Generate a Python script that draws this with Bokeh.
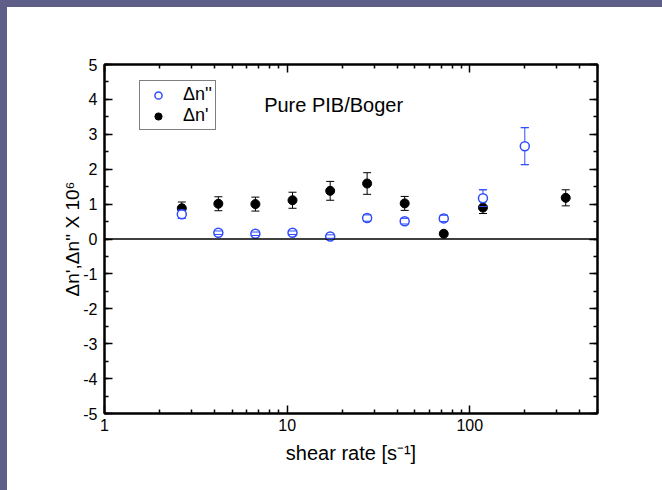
from bokeh.plotting import figure
from bokeh.models import (ColumnDataSource, Whisker, TeeHead, Span, Label, Legend, LegendItem,
                          FixedTicker, SingleIntervalTicker, LogAxis, LinearAxis, Range1d, Spacer,
                          PrintfTickFormatter)
from bokeh.layouts import column, row
from bokeh.embed import file_html
from bokeh.resources import INLINE

# ---- data ----
rate_dn2 = [2.65, 4.2, 6.7, 10.7, 17.2, 27.4, 44, 72, 118, 200]
dn2 = [0.71, 0.18, 0.15, 0.18, 0.07, 0.60, 0.51, 0.59, 1.17, 2.66]
dn2_err = [0.12, 0.05, 0.05, 0.05, 0.05, 0.09, 0.08, 0.09, 0.24, 0.53]

rate_dn1 = [2.65, 4.2, 6.7, 10.7, 17.2, 27.4, 44, 72, 118, 335]
dn1 = [0.88, 1.01, 1.00, 1.11, 1.38, 1.59, 1.02, 0.15, 0.90, 1.18]
dn1_err = [0.18, 0.20, 0.20, 0.23, 0.27, 0.31, 0.20, 0.03, 0.17, 0.23]

x_major = [1, 10, 100]
x_minor = [2, 3, 4, 5, 6, 7, 8, 9, 20, 30, 40, 50, 60, 70, 80, 90, 200, 300, 400, 500]

FONT = "Liberation Sans"
BLUE = "#2f4cff"
BG = "#5d5f88"

src2 = ColumnDataSource(dict(x=rate_dn2, y=dn2,
                             lo=[v - e for v, e in zip(dn2, dn2_err)],
                             hi=[v + e for v, e in zip(dn2, dn2_err)]))
src1 = ColumnDataSource(dict(x=rate_dn1, y=dn1,
                             lo=[v - e for v, e in zip(dn1, dn1_err)],
                             hi=[v + e for v, e in zip(dn1, dn1_err)]))

p = figure(width=655, height=483, x_axis_type="log",
           x_range=Range1d(1, 500), y_range=Range1d(-5, 5),
           output_backend="svg", toolbar_location=None,
           min_border_left=97, min_border_right=65, min_border_top=57, min_border_bottom=77,
           background_fill_color="white", border_fill_color="white")
p.grid.visible = False
p.outline_line_color = "black"
p.outline_line_width = 2

xt = FixedTicker(ticks=x_major, minor_ticks=x_minor)
yt = SingleIntervalTicker(interval=1, num_minor_ticks=2)


def style(ax, labels=True):
    ax.axis_line_width = 2
    ax.axis_line_color = "black"
    ax.major_tick_in = 8
    ax.major_tick_out = 0
    ax.minor_tick_in = 4
    ax.minor_tick_out = 0
    ax.major_tick_line_width = 1.5
    ax.minor_tick_line_width = 1.5
    ax.major_tick_line_color = "black"
    ax.minor_tick_line_color = "black"
    ax.major_label_text_font = FONT
    ax.major_label_text_font_size = "16px"
    ax.major_label_text_color = "black"
    ax.axis_label_text_font = FONT
    ax.axis_label_text_font_size = "20px"
    ax.axis_label_text_font_style = "normal"
    ax.axis_label_text_color = "black"
    if not labels:
        ax.major_label_text_font_size = "0px"
        ax.major_label_text_alpha = 0
        ax.major_label_standoff = 0


xa = p.xaxis[0]
xa.ticker = xt
xa.formatter = PrintfTickFormatter(format="%d")
style(xa)
xa.major_label_standoff = 5
xa.axis_label = "shear rate [s⁻¹]"
xa.axis_label_standoff = 8

ya = p.yaxis[0]
ya.ticker = yt
ya.formatter = PrintfTickFormatter(format="%d")
style(ya)
ya.major_label_standoff = 7
ya.axis_label = "Δn',Δn'' X 10⁶"
ya.axis_label_text_font_size = "19px"
ya.axis_label_standoff = -3

top = LogAxis(ticker=FixedTicker(ticks=x_major, minor_ticks=x_minor))
style(top, labels=False)
p.add_layout(top, "above")
right = LinearAxis(ticker=SingleIntervalTicker(interval=1, num_minor_ticks=2))
style(right, labels=False)
p.add_layout(right, "right")

p.add_layout(Span(location=0, dimension="width", line_color="black", line_width=1.5))

# error bars (stems under the markers)
w1 = Whisker(source=src1, base="x", lower="lo", upper="hi", dimension="height",
             line_color="black", line_width=1,
             upper_head=TeeHead(size=8, line_color="black", line_width=1),
             lower_head=TeeHead(size=8, line_color="black", line_width=1))
w2 = Whisker(source=src2, base="x", lower="lo", upper="hi", dimension="height",
             line_color=BLUE, line_width=1,
             upper_head=TeeHead(size=8, line_color=BLUE, line_width=1),
             lower_head=TeeHead(size=8, line_color=BLUE, line_width=1))
p.add_layout(w1)
p.add_layout(w2)

r1 = p.scatter("x", "y", source=src1, marker="circle", size=9,
               fill_color="black", line_color="black")
r2 = p.scatter("x", "y", source=src2, marker="circle", size=9,
               fill_color="white", line_color=BLUE, line_width=1.5)

# caps of the blue error bars drawn over the open markers
w2top = Whisker(source=src2, base="x", lower="lo", upper="hi", dimension="height",
                line_alpha=0, level="overlay",
                upper_head=TeeHead(size=8, line_color=BLUE, line_width=1),
                lower_head=TeeHead(size=8, line_color=BLUE, line_width=1))
p.add_layout(w2top)

legend = Legend(items=[LegendItem(label="Δn''", renderers=[r2]),
                       LegendItem(label="Δn'", renderers=[r1])],
                location=(35, 283), orientation="vertical",
                label_text_font=FONT, label_text_font_size="18px", label_text_color="black",
                glyph_width=30, glyph_height=18, label_height=18, label_standoff=10,
                padding=3, spacing=0, margin=0,
                border_line_color="black", border_line_width=1,
                background_fill_color="white", background_fill_alpha=1)
p.add_layout(legend)

p.add_layout(Label(x=7.48, y=3.83, text="Pure PIB/Boger", text_font=FONT,
                   text_font_size="20px", text_baseline="middle", text_align="left",
                   text_color="black"))

top_strip = Spacer(width=662, height=7, styles={"background-color": BG})
left_strip = Spacer(width=7, height=483, styles={"background-color": BG})
layout = column(top_strip, row(left_strip, p, spacing=0), spacing=0)

open("out.html", "w").write(file_html(layout, INLINE))
